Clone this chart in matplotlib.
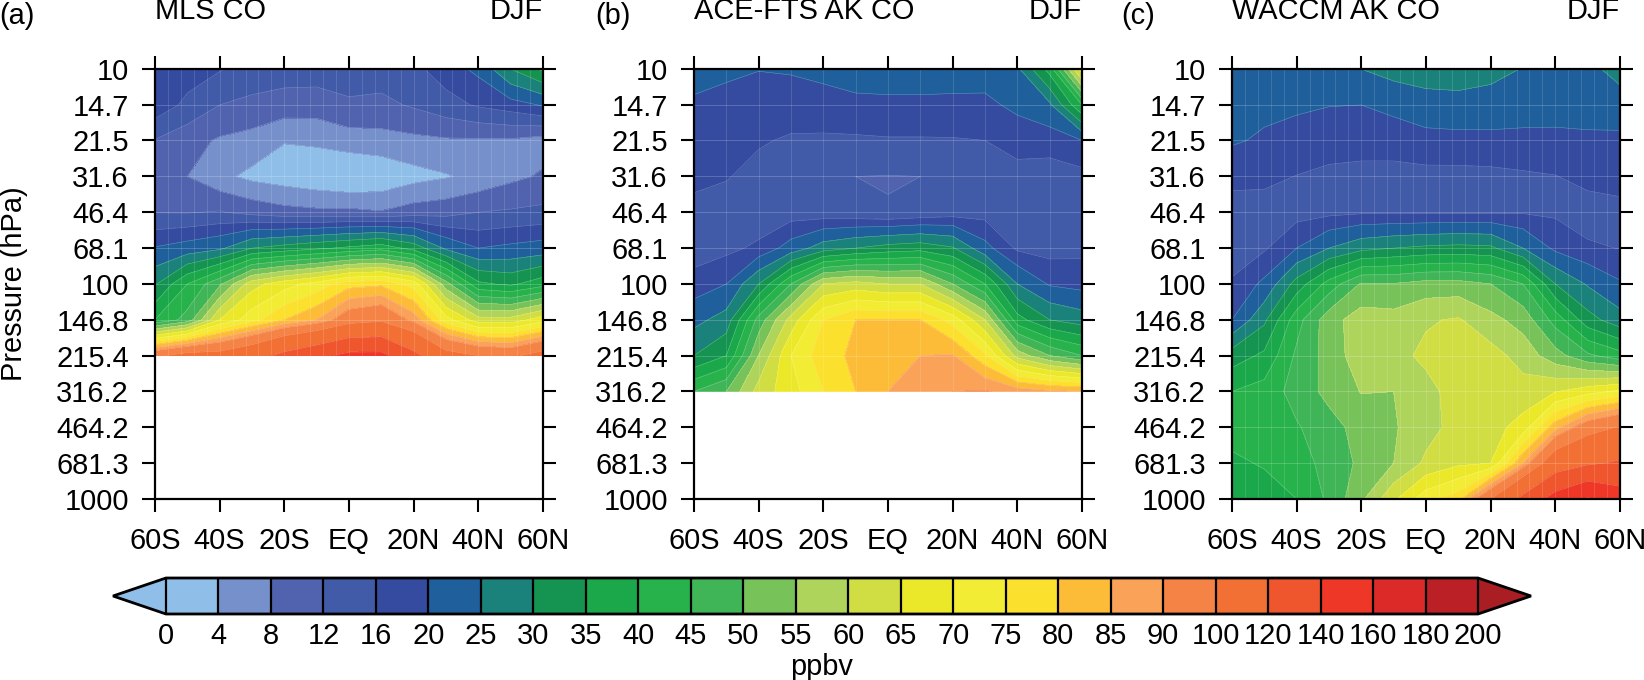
import numpy as np
import matplotlib
matplotlib.use("Agg")
import matplotlib.pyplot as plt
from matplotlib.colors import BoundaryNorm, ListedColormap

plt.rcParams["font.family"] = ["Liberation Sans", "DejaVu Sans"]

LATS = [-60, -50, -40, -30, -20, -10, 0, 10, 20, 30, 40, 50, 60]
PRESSURE = [10, 14.7, 21.5, 31.6, 46.4, 68.1, 100, 146.8, 215.4, 316.2, 464.2, 681.3, 1000]
P_LABELS = ["10", "14.7", "21.5", "31.6", "46.4", "68.1", "100", "146.8", "215.4",
            "316.2", "464.2", "681.3", "1000"]
X_TICKS = [-60, -40, -20, 0, 20, 40, 60]
X_LABELS = ["60S", "40S", "20S", "EQ", "20N", "40N", "60N"]

LEVELS = [0, 4, 8, 12, 16, 20, 25, 30, 35, 40, 45, 50, 55, 60, 65, 70, 75, 80, 85, 90,
          100, 120, 140, 160, 180, 200]
COLORS = ["#8FBFE8", "#7590CB", "#5163AE", "#425BA9", "#354BA0", "#1F5F9B", "#1B827B",
          "#149450", "#1BA84B", "#27B24B", "#3FB558", "#78C25A", "#AFD45C", "#D0DD43",
          "#EBE82A", "#F3EC34", "#FBE02D", "#FDBC37", "#F9A258", "#F58345", "#F37035",
          "#EF562E", "#EE3726", "#DB2A27", "#BA2026"]
LOW_COLOR = "#8FBFE8"
HIGH_COLOR = "#A81E22"

# rows go from 10 hPa downward, columns from 60S to 60N
MLS_CO = [
    [19, 18, 16.3, 14.5, 14, 14, 13.7, 14, 15, 18, 21, 30, 36],
    [18.6, 15, 12, 11, 10.2, 10, 11.5, 11, 12.5, 14.5, 16.5, 18, 20.4],
    [11.8, 9.5, 7.5, 6.5, 4.2, 4.7, 6, 6.5, 7, 7.5, 7.5, 7.5, 6.2],
    [9, 8, 5, 3, 2, 1, 0, 0.8, 2.6, 3.7, 5, 7, 8.5],
    [11.9, 11.8, 12.3, 10.7, 9.4, 8.9, 9, 8.3, 9.9, 10.5, 12, 12.5, 13],
    [20.3, 22, 24, 30, 32, 34, 36, 38, 33, 24, 20, 21, 22],
    [29.4, 40, 49, 63, 68, 72, 78, 79, 73, 52, 36, 34, 38],
    [40, 47, 65, 73, 80, 85, 95, 98, 88, 72, 62, 62, 68],
    [98, 105, 105, 112, 125, 135, 145, 145, 125, 105, 100, 98, 105],
]
ACE_CO = [
    [21, 20.6, 20.1, 20.3, 20.7, 21, 21, 21, 21.5, 21.6, 24, 37, 68],
    [19.6, 19, 18.5, 18.5, 19, 19.5, 19.6, 19.6, 19.3, 19.2, 20.8, 24, 40],
    [18.5, 18, 16.5, 15.4, 15.2, 15.3, 15.6, 15.6, 15.7, 16, 18, 17.5, 20],
    [17.7, 16.3, 14.5, 14, 13.5, 12, 11.9, 12, 14, 14.5, 14.2, 14.4, 14.7],
    [14, 14, 13.5, 14, 13.5, 13, 12.1, 13, 14, 14.5, 14.5, 14.5, 14],
    [14.2, 15, 16.8, 22, 27.5, 30, 32, 33, 30.5, 21.5, 15.3, 14.5, 15],
    [17.5, 20, 30, 45, 60, 62, 60, 60, 50, 40, 25, 19.5, 18.4],
    [23.5, 27, 47, 62, 75, 80, 80, 80, 73, 60, 37, 30, 27.5],
    [30, 35, 55, 70, 78, 81, 85, 85, 85.5, 76, 58, 50, 45],
    [45, 50, 62, 68, 75, 80, 85, 88, 90, 90.5, 88, 86, 85],
]
WACCM_CO = [
    [21, 21.5, 22, 23.5, 25, 27, 28, 28, 26.5, 24.8, 22.5, 23.5, 27],
    [21.5, 21, 20.6, 20.1, 20, 21, 22.5, 23, 23, 22.5, 22.5, 23, 22.5],
    [20.5, 19.4, 18.5, 18, 18, 18, 18.6, 18.7, 18.7, 18.6, 18.5, 18.7, 19],
    [17, 17, 15.9, 15, 14.5, 14.5, 14.8, 14.8, 15, 15.5, 15.9, 17, 17.3],
    [14.5, 14.2, 14.5, 15, 15.5, 15.4, 15.4, 15.5, 15.6, 15.7, 15.4, 14.5, 15],
    [14, 15.5, 20, 25, 28.5, 30, 31, 31.5, 31, 25, 19, 16.5, 15.9],
    [16.5, 21, 32, 42, 50.5, 50.3, 52, 52, 50, 45, 30, 24.5, 20.5],
    [20, 29, 43, 53, 57.5, 57, 59.5, 60.5, 56.5, 53, 43, 32, 27],
    [32.5, 36, 46, 52, 58, 58.5, 61, 63, 62, 58, 52, 46, 42],
    [40, 42, 47, 51.5, 55.2, 55, 58.5, 62, 62.5, 62, 64.7, 68, 71],
    [42, 42, 44.5, 48, 52, 54.5, 58, 62, 63, 67, 83, 95, 101],
    [39, 40.5, 42.5, 47, 51, 55, 61, 64, 65, 85, 110, 118, 122],
    [36, 37.5, 40, 46, 54, 64, 73, 78, 100, 125, 148, 162, 150],
]

PANELS = [
    ("(a)", "MLS CO", MLS_CO, 155, -1),
    ("(b)", "ACE-FTS AK CO", ACE_CO, 694, 595),
    ("(c)", "WACCM AK CO", WACCM_CO, 1232, 1121),
]
GRID_STEP = {"(a)": 4, "(b)": 10, "(c)": 4}

W, H = 1644, 680
cmap = ListedColormap(COLORS).with_extremes(under=LOW_COLOR, over=HIGH_COLOR)
norm = BoundaryNorm(LEVELS, cmap.N)
log_p = np.log10(PRESSURE)

fig = plt.figure(figsize=(W / 100, H / 100), dpi=100)
FS = 20.9

for tag, name, values, left, tag_x in PANELS:
    ax = fig.add_axes([left / W, 1 - 499 / H, 388 / W, 430 / H])
    z = np.array(values)
    y = log_p[:z.shape[0]]
    cf = ax.contourf(LATS, y, z, levels=LEVELS, cmap=cmap, norm=norm, extend="both")
    ax.contour(LATS, y, z, levels=LEVELS, colors="white", linewidths=0.4, alpha=0.3)

    # faint cell edges that show through in the original
    ax.vlines(np.arange(-60, 61, GRID_STEP[tag]), y[0], y[-1], color="white", lw=0.6, alpha=0.16)
    ax.hlines(y, -60, 60, color="white", lw=0.7, alpha=0.2)

    ax.set_xlim(-60, 60)
    ax.set_ylim(log_p[-1], log_p[0])
    ax.set_xticks(X_TICKS, X_LABELS)
    ax.set_yticks(log_p, P_LABELS)
    ax.tick_params(axis="both", which="major", direction="out", length=9.4, width=1.5,
                   labelsize=FS, top=True, right=True)
    ax.tick_params(axis="x", pad=11)
    ax.tick_params(axis="y", pad=9.5)
    for spine in ax.spines.values():
        spine.set_linewidth(1.6)

    ax.text(0, 1.0 + 44 / 430, name, transform=ax.transAxes, fontsize=FS, ha="left", va="bottom")
    ax.text(1, 1.0 + 44 / 430, "DJF", transform=ax.transAxes, fontsize=FS, ha="right", va="bottom")
    fig.text(tag_x / W, 1 - 24 / H, tag, fontsize=FS, ha="left", va="baseline")
    if tag == "(a)":
        ax.set_ylabel("Pressure (hPa)", fontsize=FS)
        ax.yaxis.set_label_coords(-127 / 388, 0.5)

# the axes box includes both arrow tips
cax = fig.add_axes([113 / W, 1 - 614 / H, 1418 / W, 36 / H])
cb = fig.colorbar(cf, cax=cax, orientation="horizontal", spacing="uniform", ticks=LEVELS,
                  extend="both", extendfrac=53 / 1312, drawedges=True)
cb.ax.tick_params(length=0, labelsize=FS, pad=6)
cb.set_ticklabels([str(v) for v in LEVELS])
cb.outline.set_linewidth(2)
cb.dividers.set_linewidth(1.6)
cb.dividers.set_color("black")
cb.set_label("ppbv", fontsize=FS, labelpad=2)

fig.savefig("out.png", dpi=100)
